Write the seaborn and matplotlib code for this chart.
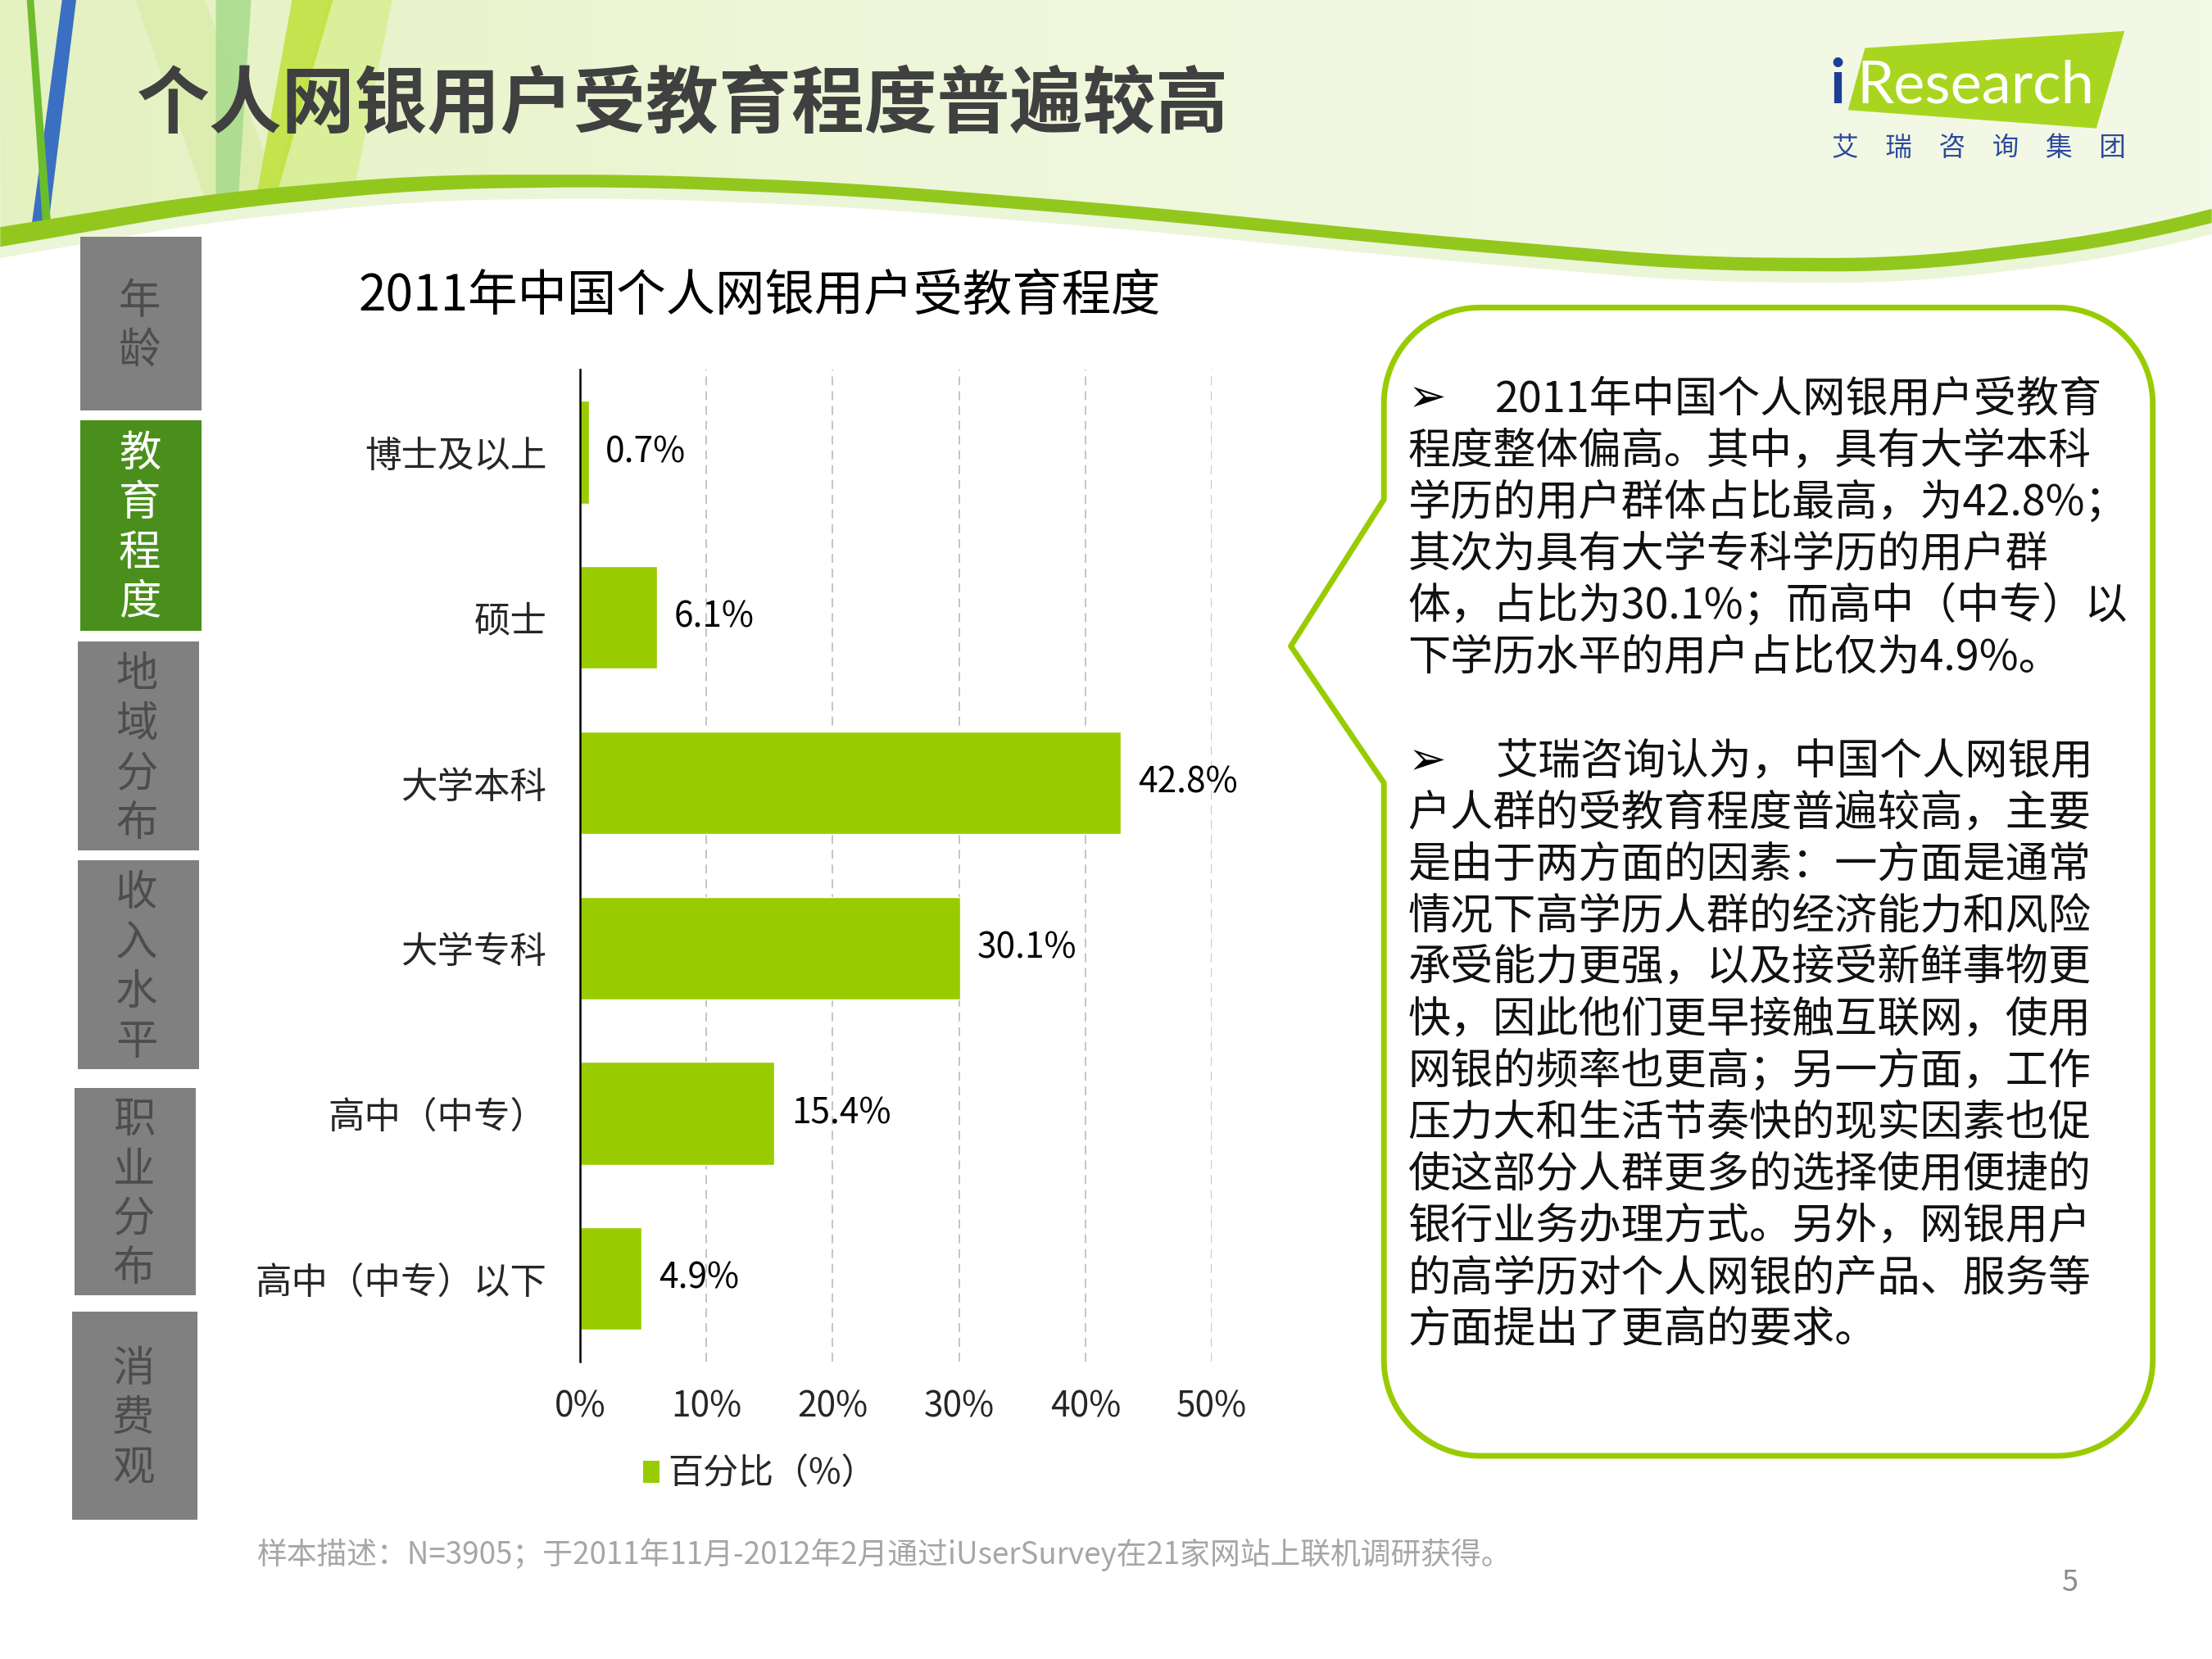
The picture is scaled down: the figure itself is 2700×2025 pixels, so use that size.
import numpy as np
import pandas as pd
import matplotlib
matplotlib.use('Agg')
import matplotlib.pyplot as plt
from matplotlib.patches import Polygon, Rectangle, Patch
from matplotlib.colors import LinearSegmentedColormap
import seaborn as sns

# ---------------- data ----------------
categories = ['博士及以上', '硕士', '大学本科', '大学专科', '高中（中专）', '高中（中专）以下']
percentages = [0.7, 6.1, 42.8, 30.1, 15.4, 4.9]
x_ticks = [0, 10, 20, 30, 40, 50]
x_tick_labels = ['0%', '10%', '20%', '30%', '40%', '50%']
series_name = '百分比（%）'
chart_title = '2011年中国个人网银用户受教育程度'
page_title = '个人网银用户受教育程度普遍较高'
nav_tabs = ['年龄', '教育程度', '地域分布', '收入水平', '职业分布', '消费观']
active_tab = '教育程度'
bubble_para1 = ['2011年中国个人网银用户受教育',
                '程度整体偏高。其中，具有大学本科',
                '学历的用户群体占比最高，为42.8%；',
                '其次为具有大学专科学历的用户群',
                '体，占比为30.1%；而高中（中专）以',
                '下学历水平的用户占比仅为4.9%。']
bubble_para2 = ['艾瑞咨询认为，中国个人网银用',
                '户人群的受教育程度普遍较高，主要',
                '是由于两方面的因素：一方面是通常',
                '情况下高学历人群的经济能力和风险',
                '承受能力更强，以及接受新鲜事物更',
                '快，因此他们更早接触互联网，使用',
                '网银的频率也更高；另一方面，工作',
                '压力大和生活节奏快的现实因素也促',
                '使这部分人群更多的选择使用便捷的',
                '银行业务办理方式。另外，网银用户',
                '的高学历对个人网银的产品、服务等',
                '方面提出了更高的要求。']
footnote = '样本描述：N=3905；于2011年11月-2012年2月通过iUserSurvey在21家网站上联机调研获得。'
page_number = '5'
logo_main = 'Research'
logo_cn = '艾　瑞　咨　询　集　团'

# ---------------- style ----------------
sns.set_style('white')
plt.rcParams['font.family'] = ['Noto Sans CJK SC', 'DejaVu Sans']

BAR = '#99cc00'
W, H = 1568.0, 1176.0  # layout units (scaled to 2700x2025 output)

fig = plt.figure(figsize=(27, 20.25), dpi=100)
fig.patch.set_facecolor('white')

# background / decoration axes in layout units (y downward)
bg = fig.add_axes([0, 0, 1, 1], zorder=0)
bg.set_xlim(0, W)
bg.set_ylim(H, 0)
bg.axis('off')

# swoosh curve
cx = np.array([0, 150, 300, 450, 600, 800, 1000, 1200, 1350, 1500, 1568])
cy = np.array([168, 143, 129, 128, 134, 150, 170, 187, 188, 170, 153])
xs = np.linspace(-200, W + 200, 2400)
ys = np.interp(xs, cx, cy)
ys = np.where(xs < 0, 168 + (xs) * (-25 / 150), ys)
ys = np.where(xs > W, 153 + (xs - W) * (-17 / 68), ys)
k = 70
ys = np.convolve(np.pad(ys, k, mode='edge'), np.ones(2 * k + 1) / (2 * k + 1), mode='valid')
sel = (xs >= 0) & (xs <= W)
xs, ys = xs[sel], ys[sel]
thick = np.interp(xs, [0, 400, 1000, 1568], [14, 9, 9, 10])

top_poly = np.vstack([[[0, 0]], np.column_stack([xs, ys]), [[W, 0]]])
clip = Polygon(top_poly, closed=True, facecolor='none', edgecolor='none', transform=bg.transData)
bg.add_patch(clip)
grad = np.linspace(0, 1, 256)[None, :]
cmap = LinearSegmentedColormap.from_list('g', ['#e4f1c0', '#edf6d6', '#f1f8e2', '#f3f9e6'])
im = bg.imshow(grad, cmap=cmap, extent=[0, W, 200, 0], aspect='auto', zorder=0.5)
im.set_clip_path(clip)

# left stripes
stripes = [
    ([(96, 0), (145, 0), (200, 140), (145, 140)], '#dcedae', 0.9),
    ([(153, 0), (178, 0), (169, 140), (153, 140)], '#a9dc8e', 0.9),
    ([(233, 0), (278, 0), (251, 135), (193, 135)], '#d6ee8e', 0.8),
    ([(207, 0), (236, 0), (196, 138), (182, 138)], '#bde23a', 0.85),
    ([(44, 0), (54, 0), (33, 170), (21, 170)], '#3b6fc2', 1.0),
    ([(19, 0), (24, 0), (37, 170), (31, 170)], '#6cbd2b', 1.0),
]
for pts, col, a in stripes:
    p = Polygon(pts, closed=True, facecolor=col, edgecolor='none', alpha=a, zorder=0.6)
    bg.add_patch(p)
    p.set_clip_path(clip)

# green band
band = np.vstack([np.column_stack([xs, ys - thick / 2]), np.column_stack([xs[::-1], (ys + thick / 2)[::-1]])])
bg.add_patch(Polygon(band, closed=True, facecolor='#92c81e', edgecolor='none', zorder=0.8))
glow = np.vstack([np.column_stack([xs, ys + thick / 2]), np.column_stack([xs[::-1], (ys + thick / 2 + 8)[::-1]])])
bg.add_patch(Polygon(glow, closed=True, facecolor='#d8ecb0', edgecolor='none', alpha=0.5, zorder=0.7))

# page title
bg.text(97, 75, page_title, fontsize=64, fontweight='bold', color='#404040', ha='left', va='center', zorder=2)

# logo
bg.add_patch(Polygon([(1322, 34), (1506, 22), (1486, 91), (1310, 78)], closed=True,
                     facecolor='#a8d620', edgecolor='none', zorder=1))
bg.text(1297, 73, 'i', fontsize=54, fontweight='bold', color='#1f3d96', family='Lato',
        ha='left', va='baseline', zorder=2)
bg.text(1316, 73, logo_main, fontsize=52, color='white', family='Lato', ha='left', va='baseline', zorder=2)
bg.text(1403, 105, logo_cn, fontsize=23.5, color='#2e4a9e', ha='center', va='center', zorder=2)

# navigation tabs
tab_boxes = [(57, 168, 143, 291), (57, 298, 143, 447), (55, 455, 141, 603),
             (55, 610, 141, 758), (53, 771, 139, 918), (51, 930, 140, 1077)]
for name, (x0, y0, x1, y1) in zip(nav_tabs, tab_boxes):
    active = name == active_tab
    bg.add_patch(Rectangle((x0, y0), x1 - x0, y1 - y0, facecolor='#4a8f1c' if active else '#808080',
                           edgecolor='none', zorder=1))
    bg.text((x0 + x1) / 2 - 1, (y0 + y1) / 2 + 2, '\n'.join(name), fontsize=37,
            color='white' if active else '#4d4d4d', ha='center', va='center',
            linespacing=1.17, zorder=2)

# speech bubble
L, R, T, B, r = 981, 1526, 218, 1032, 68
def arc(cxp, cyp, a0, a1, n=30):
    t = np.radians(np.linspace(a0, a1, n))
    return np.column_stack([cxp + r * np.cos(t), cyp + r * np.sin(t)])
pts = np.vstack([
    [[L + r, T]],
    arc(R - r, T + r, -90, 0),
    arc(R - r, B - r, 0, 90),
    arc(L + r, B - r, 90, 180),
    [[L, 555], [915, 458], [L, 354]],
    arc(L + r, T + r, 180, 270),
])
bg.add_patch(Polygon(pts, closed=True, facecolor='white', edgecolor='#99cc00', linewidth=5, zorder=1,
                     joinstyle='round'))

pitch = 36.6
for y0, para in ((283, bubble_para1), (540, bubble_para2)):
    bg.text(998, y0, '➢', fontsize=40, color='black', ha='left', va='center', zorder=2,
            family=['DejaVu Sans'])
    for i, line in enumerate(para):
        bg.text(1060 if i == 0 else 998, y0 + i * pitch, line, fontsize=37.5, color='#111111',
                ha='left', va='center', zorder=2)

# chart title
bg.text(254, 210, chart_title, fontsize=43.5, fontweight='medium', color='black', ha='left', va='center', zorder=2)

# footnote & page number
bg.text(182, 1102, footnote, fontsize=26.5, color='#a6a6a6', ha='left', va='center', zorder=2)
bg.text(1467, 1122, page_number, fontsize=26, color='#8c8c8c', ha='center', va='center', zorder=2)

# ---------------- bar chart ----------------
df = pd.DataFrame({'category': categories, 'value': percentages})
ax = fig.add_axes([411 / W, 1 - 965 / H, (859 - 411) / W, (965 - 262) / H], zorder=3)
ax.set_facecolor('none')
sns.barplot(data=df, x='value', y='category', orient='h', color=BAR, saturation=1,
            width=0.62, ax=ax, zorder=3)
ax.set_xlim(0, 50)
ax.set_ylim(5.5, -0.5)
ax.set_xticks(x_ticks)
ax.set_xticklabels(x_tick_labels, fontsize=30.5)
ax.tick_params(axis='x', length=0, pad=24)
ax.tick_params(axis='y', length=0, pad=29, labelsize=32)
ax.set_xlabel('')
ax.set_ylabel('')
for s in ['top', 'right', 'bottom']:
    ax.spines[s].set_visible(False)
ax.spines['left'].set_color('black')
ax.spines['left'].set_linewidth(1.8)
ax.spines['left'].set_zorder(5)
ax.xaxis.grid(True, linestyle=(0, (6, 4)), color='#bfbfbf', linewidth=1.3, zorder=0)
ax.yaxis.grid(False)
ax.set_axisbelow(True)
for c in ax.containers:
    ax.bar_label(c, labels=[f'{v:.1f}%' for v in percentages], padding=15, fontsize=30.5, color='black')

fig.legend(handles=[Patch(facecolor=BAR, edgecolor='none')], labels=[series_name],
           loc='center left', bbox_to_anchor=(456 / W, 1 - 1045 / H), frameon=False,
           fontsize=31, handlelength=0.45, handleheight=0.6, handletextpad=0.25,
           borderpad=0, borderaxespad=0)

fig.savefig('out.png', dpi=100, facecolor='white')
